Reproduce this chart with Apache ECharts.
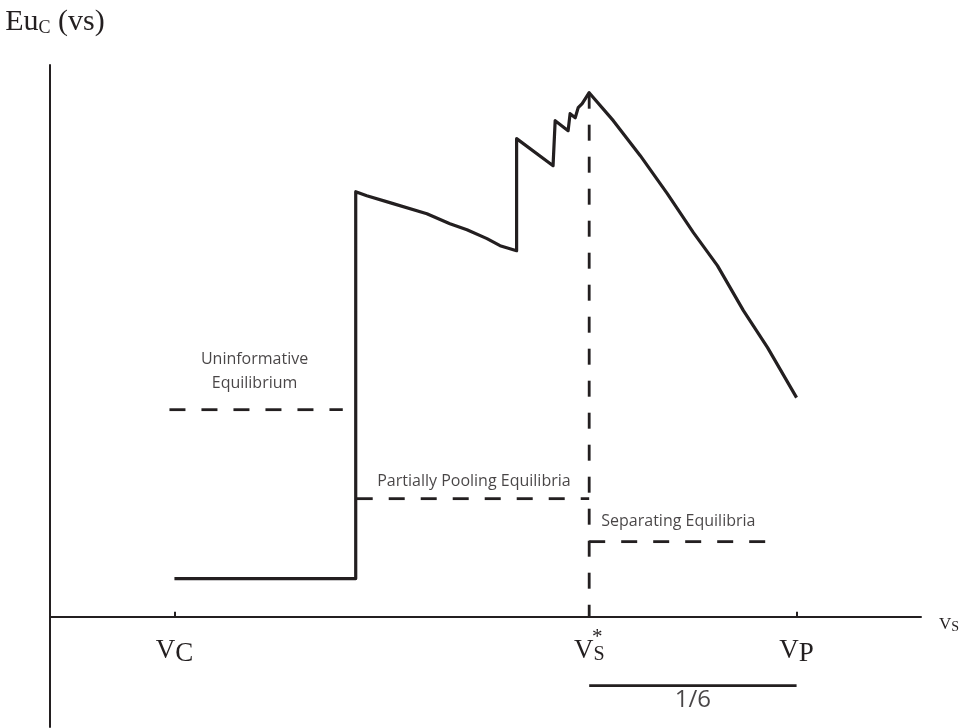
<!DOCTYPE html>
<html>
<head>
<meta charset="utf-8">
<script src="https://cdn.jsdelivr.net/npm/echarts@6/dist/echarts.min.js"></script>
<style>html,body{margin:0;padding:0;background:#fff}#c{width:965px;height:728px}</style>
</head>
<body>
<div id="c"></div>
<script>
// x: valuation v (vC = 0.5, vP = 1, vs* = 5/6); y: expected utility (arbitrary units)
const vC = 0.5, vS = 5 / 6, vP = 1.0;
const curveX = [0.5, 0.6457, 0.6457, 0.6546, 0.6731, 0.7029, 0.7214, 0.7351, 0.7512, 0.7617, 0.775, 0.775, 0.8043, 0.806, 0.8164, 0.818, 0.8221, 0.8245, 0.8277, 0.8333, 0.8527, 0.8744, 0.8961, 0.9171, 0.9364, 0.9573, 0.9767, 1.0];
const curveY = [0.069, 0.069, 0.7704, 0.7631, 0.7505, 0.7305, 0.7124, 0.7015, 0.6852, 0.6725, 0.6634, 0.8665, 0.8175, 0.8991, 0.881, 0.9118, 0.9045, 0.9227, 0.9299, 0.9498, 0.8991, 0.8356, 0.7668, 0.6961, 0.6363, 0.5547, 0.4876, 0.397];
const uninformX = [0.496, 0.6353], uninformY = 0.3752;
const poolingX = [0.6465, vS], poolingY = 0.2139;
const separX = [vS, 0.987], separY = 0.136;
const peakY = 0.9498;
const bracketY = -0.125, bracketLabelY = -0.152;
const tickValues = [vC, vS, vP];
const annotations = [
  { name: 'Uninformative\nEquilibrium', value: [0.5644, 0.444] },
  { name: 'Partially Pooling Equilibria', value: [0.7407, 0.2447] },
  { name: 'Separating Equilibria', value: [0.905, 0.1722] }
];
const bracketLabel = { name: '1/6', value: [(vS + vP) / 2, bracketLabelY] };

const INK = '#231f20';
const zip = (xs, ys) => xs.map((x, i) => [x, Array.isArray(ys) ? ys[i] : ys]);
const dash = { color: INK, width: 2.8, type: [16, 16] };

const chart = echarts.init(document.getElementById('c'));
chart.setOption({
  animation: false,
  grid: { left: 50, right: 44, top: 65, bottom: 1, containLabel: false, outerBoundsMode: 'none' },
  xAxis: {
    type: 'value', min: 0.4, max: 1.1,
    name: '{v|V}{s|S}', nameLocation: 'end', nameGap: 18,
    nameTextStyle: { padding: [16, 0, 0, 0], rich: {
      v: { fontFamily: 'Liberation Serif', fontSize: 17, color: INK },
      s: { fontFamily: 'Liberation Serif', fontSize: 14, color: INK, padding: [6, 0, 0, 0] }
    } },
    axisLine: { onZero: true, lineStyle: { color: INK, width: 2 } },
    axisTick: { show: true, inside: true, length: 5, customValues: tickValues, lineStyle: { color: INK, width: 2 } },
    axisLabel: {
      show: true, customValues: tickValues, margin: -90,
      formatter: function (v) {
        if (Math.abs(v - vC) < 1e-6) return '{star| }\n{v|V}{c|C}';
        if (Math.abs(v - vS) < 1e-6) return '{star|*}\n{v|V}{s|S}';
        return '{star| }\n{v|V}{c|P}';
      },
      rich: {
        star: { fontFamily: 'Liberation Serif', fontSize: 21, lineHeight: 0.1, color: INK, padding: [0, 0, 0, 16] },
        v: { fontFamily: 'Liberation Serif', fontSize: 27, lineHeight: 28, color: INK },
        c: { fontFamily: 'Liberation Serif', fontSize: 27, lineHeight: 28, color: INK, padding: [6, 0, 0, 0] },
        s: { fontFamily: 'Liberation Serif', fontSize: 20, lineHeight: 28, color: INK, padding: [8, 0, 0, 0] }
      }
    },
    splitLine: { show: false }
  },
  yAxis: {
    type: 'value', min: -0.2, max: 1.0,
    name: '{e|Eu}{c|C}{e| (vs)}', nameLocation: 'end', nameGap: 28,
    nameTextStyle: { align: 'center', padding: [0, 0, 0, 10], rich: {
      e: { fontFamily: 'Liberation Serif', fontSize: 30, color: INK },
      c: { fontFamily: 'Liberation Serif', fontSize: 18, color: INK, padding: [12, 0, 0, 0] }
    } },
    axisLine: { show: true, onZero: false, lineStyle: { color: INK, width: 2 } },
    axisTick: { show: false }, axisLabel: { show: false }, splitLine: { show: false }
  },
  series: [
    { type: 'line', data: zip(curveX, curveY), symbol: 'none', lineStyle: { color: INK, width: 3.2, join: 'round' }, silent: true, z: 5 },
    { type: 'line', data: zip(uninformX, uninformY), symbol: 'none', lineStyle: dash, silent: true },
    { type: 'line', data: zip(poolingX, poolingY), symbol: 'none', lineStyle: dash, silent: true },
    { type: 'line', data: zip(separX, separY), symbol: 'none', lineStyle: dash, silent: true },
    { type: 'line', data: [[vS, peakY], [vS, 0]], symbol: 'none', lineStyle: dash, silent: true },
    { type: 'line', data: [[vS, bracketY], [vP, bracketY]], symbol: 'none', lineStyle: { color: INK, width: 2.6 }, silent: true },
    {
      type: 'scatter', data: annotations, symbolSize: 0, silent: true,
      label: { show: true, position: 'inside', formatter: '{b}', color: '#1a1718', fontFamily: 'Open Sans', fontSize: 16, lineHeight: 24 }
    },
    {
      type: 'scatter', data: [bracketLabel], symbolSize: 0, silent: true,
      label: { show: true, position: 'inside', formatter: '{b}', color: '#1a1718', fontFamily: 'Open Sans', fontSize: 24 }
    }
  ]
});
</script>
</body>
</html>
